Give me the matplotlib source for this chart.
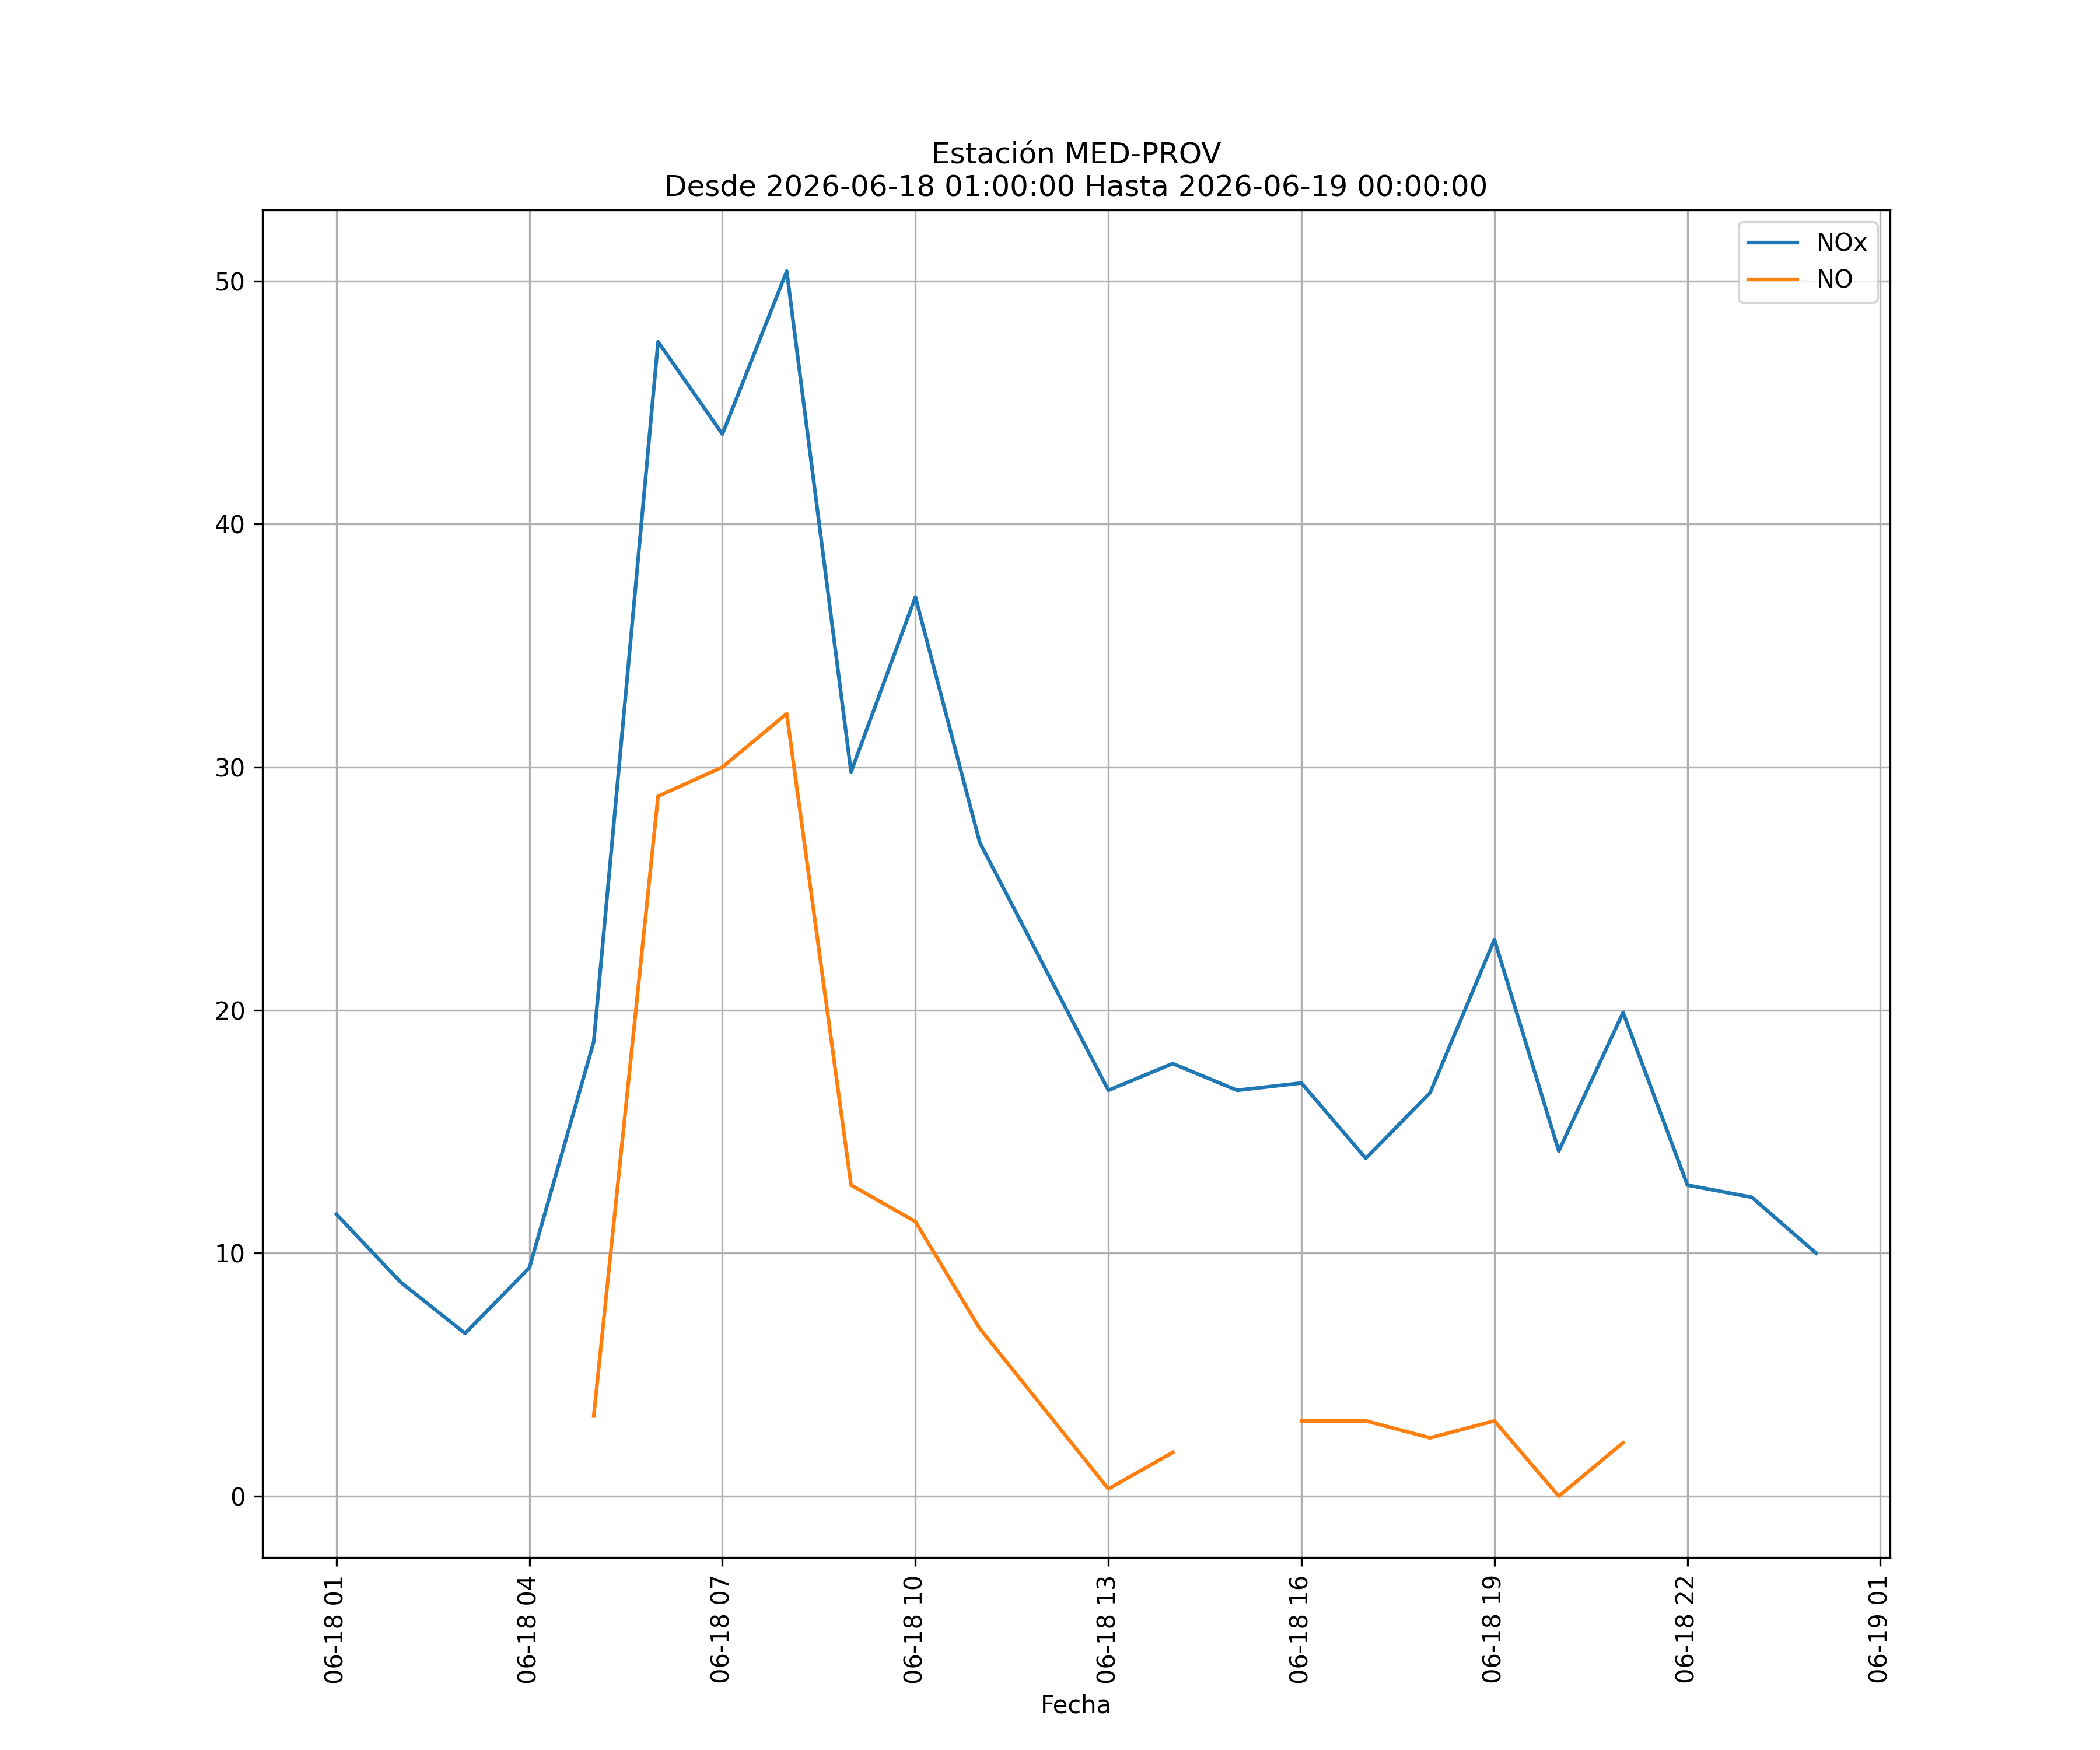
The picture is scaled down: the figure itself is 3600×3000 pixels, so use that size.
import pandas as pd
import numpy as np
import matplotlib
matplotlib.use("Agg")
import matplotlib.pyplot as plt
import matplotlib.dates as mdates

# ── Hourly data, MED-PROV station ─────────────────────────────────────────────
fechas = pd.date_range("2026-06-18 01:00:00", "2026-06-19 00:00:00", freq="h")

nox = [11.6, 8.8, 6.7, 9.4, 18.7, 47.5, 43.7, 50.4, 29.8, 37.0, 26.9, 21.8,
       16.7, 17.8, 16.7, 17.0, 13.9, 16.6, 22.9, 14.2, 19.9, 12.8, 12.3, 10.0]

no = [np.nan, np.nan, np.nan, np.nan, 3.3, 28.8, 30.0, 32.2, 12.8, 11.3, 6.9, 3.6,
      0.3, 1.8, np.nan, 3.1, 3.1, 2.4, 3.1, 0.0, 2.2, np.nan, np.nan, np.nan]

fig, ax = plt.subplots(figsize=(12, 10))

ax.plot(fechas, nox, label="NOx")
ax.plot(fechas, no, label="NO")

ax.set_title("Estación MED-PROV\nDesde 2026-06-18 01:00:00 Hasta 2026-06-19 00:00:00")
ax.set_xlabel("Fecha")
ax.xaxis.set_major_locator(mdates.HourLocator(byhour=range(1, 24, 3)))
ax.xaxis.set_major_formatter(mdates.DateFormatter("%m-%d %H"))
plt.setp(ax.get_xticklabels(), rotation=90)
ax.grid(True)
ax.legend(loc="upper right")

fig.savefig("out.png", dpi=300)
